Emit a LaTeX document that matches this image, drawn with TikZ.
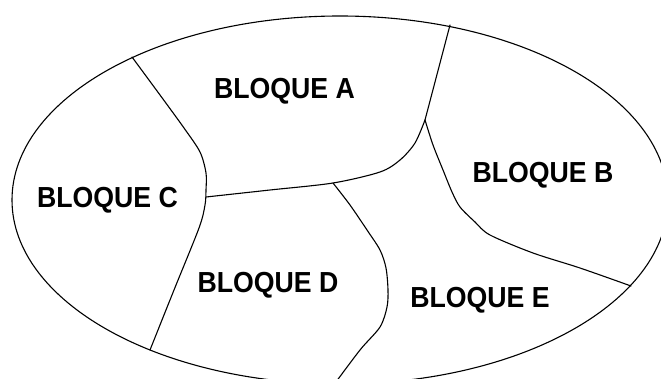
\documentclass[tikz,border=0pt]{standalone}
\usepackage{fontspec}
\setmainfont{Liberation Sans}
\begin{document}
\begin{tikzpicture}[x=1pt,y=-1pt,
  border/.style={line width=1.1pt,line join=round,line cap=round},
  label/.style={inner sep=0pt,anchor=base,xscale=0.92,
    font=\bfseries\fontsize{29}{29}\selectfont}]
\useasboundingbox (0,0) rectangle (661,379);
\fill[white] (0,0) rectangle (661,379);
\begin{scope}
\clip (0,0) rectangle (661,379);
% outer ellipse
\draw[border] (340,200) ellipse [x radius=328, y radius=184];
% junctions
\coordinate (pAC) at (132,57);
\coordinate (pCD) at (150,350);
\coordinate (pAB) at (450,25);
\coordinate (pBE) at (631,286);
\coordinate (pDE) at (333,386);
\coordinate (qC)  at (206,197);
\coordinate (qAD) at (333,183);
\coordinate (qAB) at (425,120);
% A/C and C/D boundary
\draw[border] plot[smooth,tension=0.5] coordinates
  {(pAC) (160,95) (184,128) (200,152) (206,173) (206,190) (205,205) (199,228) (174,290) (pCD)};
% A/D boundary
\draw[border] plot[smooth,tension=0.5] coordinates
  {(qC) (270,190) (qAD) (380,172) (400,160) (415,143) (qAB)};
% A/B boundary
\draw[border] (qAB) -- (pAB);
% B/E boundary
\draw[border] plot[smooth,tension=0.5] coordinates
  {(qAB) (433,145) (443,170) (452,192) (460,207) (475,222) (490,235) (533,253) (580,268) (pBE)};
% D/E boundary
\draw[border] plot[smooth,tension=0.5] coordinates
  {(qAD) (350,205) (367,230) (380,250) (386,268) (388,290) (387,307) (380,327) (360,350) (pDE)};
\end{scope}
% labels
\node[label] (la) at (284.5,98.5) {BLOQUE A};
\node[label] (lb) at (543,183) {BLOQUE B};
\node[label] (lc) at (107.5,208) {BLOQUE C};
\node[label] (ld) at (268,293) {BLOQUE D};
\node[label] (le) at (480,308) {BLOQUE E};
\end{tikzpicture}
\end{document}
